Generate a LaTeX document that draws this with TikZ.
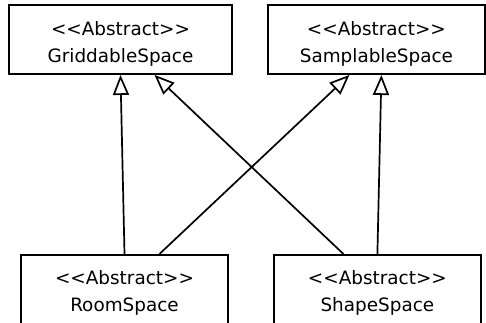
\documentclass[tikz,border=0pt]{standalone}
\usepackage{fontspec}
\newfontfamily\umlfont{DejaVu Sans}[Ligatures=TeXOff]
\usepackage{tikz}
\usetikzlibrary{arrows.meta,positioning}
\tikzset{
  classbox/.style={
    rectangle, draw=black, line width=1.9pt,
    minimum width=#1, minimum height=69pt,
    font=\fontsize{18.4}{27}\umlfont, align=center,
    text height=49pt, inner sep=0pt
  },
  classbox/.default=207pt,
  inherits/.style={
    -{Triangle[open, length=20pt, width=16pt]}, line width=1.7pt
  },
}

\begin{document}
\begin{tikzpicture}[x=1pt, y=1pt]
  \useasboundingbox (0,0) rectangle (486,-322);
  % abstract spaces on top
  \node[classbox=223pt] (griddable) at (120.5,-39.5) {<<Abstract>>\\GriddableSpace};
  \node[classbox=217pt, right=34pt of griddable] (samplable) {<<Abstract>>\\SamplableSpace};
  % concrete ones below
  \node[classbox, below=179pt of griddable, xshift=4pt] (room) {<<Abstract>>\\RoomSpace};
  \node[classbox, right=44pt of room] (shape) {<<Abstract>>\\ShapeSpace};
  % generalisation arrows
  \draw[inherits] (room.north) -- (griddable.south);
  \draw[inherits] ([xshift=35pt]room.north) -- ([xshift=-27pt]samplable.south);
  \draw[inherits] ([xshift=-34pt]shape.north) -- ([xshift=34pt]griddable.south);
  \draw[inherits] (shape.north) -- ([xshift=5pt]samplable.south);
\end{tikzpicture}
\end{document}
